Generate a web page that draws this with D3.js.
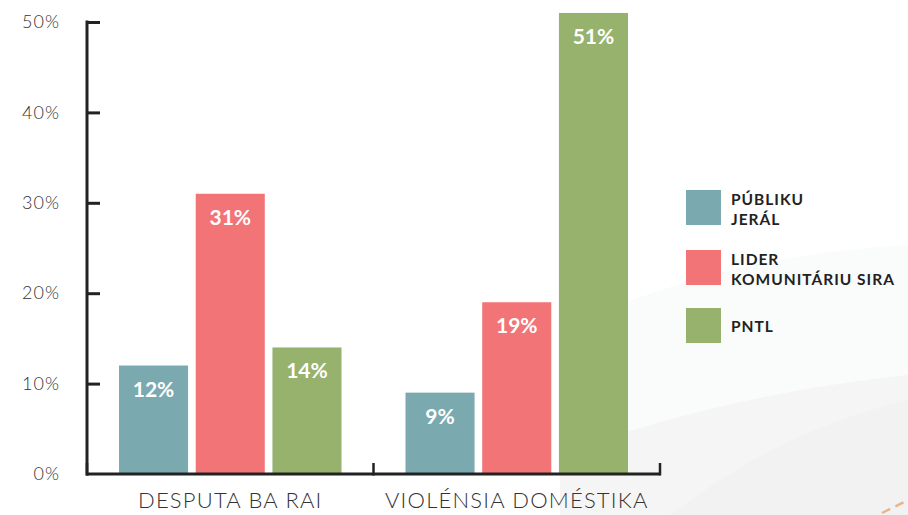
<!DOCTYPE html>
<html>
<head>
<meta charset="utf-8">
<script src="https://cdn.jsdelivr.net/npm/d3@7"></script>
<style>
  body { margin: 0; background: #fff; }
  svg { display: block; }
  .tick text { font-family: Lato, sans-serif; font-weight: 300; }
</style>
</head>
<body>
<div id="chart"></div>
<script>
  "use strict";

  var categories = ["DESPUTA BA RAI", "VIOLÉNSIA DOMÉSTIKA"];
  var seriesNames = ["PÚBLIKU JERÁL", "LIDER KOMUNITÁRIU SIRA", "PNTL"];
  var legendLines = [["PÚBLIKU", "JERÁL"], ["LIDER", "KOMUNITÁRIU SIRA"], ["PNTL"]];
  var publiku = [12, 9];
  var lider = [31, 19];
  var pntl = [14, 51];
  var yTicks = [0, 10, 20, 30, 40, 50];
  var colors = ["#7aaab0", "#f27477", "#96b26d"];

  var width = 908, height = 515;

  var svg = d3.select("#chart")
              .append("svg")
              .attr("width", width)
              .attr("height", height);

  // faint background swooshes, lower right
  svg.append("path")
     .attr("d", "M560,330 Q720,255 908,245 L908,515 L560,515 Z")
     .attr("fill", "#fafbfb");
  svg.append("path")
     .attr("d", "M560,455 Q720,395 908,375 L908,515 L560,515 Z")
     .attr("fill", "#f5f5f5");
  svg.append("path")
     .attr("d", "M670,515 Q780,430 908,400 L908,515 Z")
     .attr("fill", "#f2f2f2");
  svg.append("line")
     .attr("x1", 882).attr("y1", 513).attr("x2", 906).attr("y2", 501)
     .attr("stroke", "#e8b489").attr("stroke-width", 2.5)
     .attr("stroke-dasharray", "9,6");

  var data = categories.map(function(c, i) {
    return { name: c, values: [publiku[i], lider[i], pntl[i]] };
  });

  var x0 = d3.scaleBand()
             .domain(categories)
             .range([87, 660]);

  var x1 = d3.scaleBand()
             .domain(seriesNames)
             .range([32, x0.bandwidth() - 32])
             .paddingInner(0.1);

  var y = d3.scaleLinear()
            .domain([0, 50])
            .range([474, 22]);

  // bars
  var groups = svg.selectAll("g.group")
                  .data(data)
                  .enter()
                  .append("g")
                  .attr("class", "group")
                  .attr("transform", function(d) { return "translate(" + x0(d.name) + ",0)"; });

  var cells = groups.selectAll("g.bar")
                    .data(function(d) { return d.values.map(function(v, i) { return { s: seriesNames[i], v: v, i: i }; }); })
                    .enter()
                    .append("g")
                    .attr("class", "bar");

  cells.append("rect")
       .attr("x", function(d) { return x1(d.s); })
       .attr("y", function(d) { return y(d.v); })
       .attr("width", x1.bandwidth())
       .attr("height", function(d) { return y(0) - y(d.v); })
       .attr("fill", function(d) { return colors[d.i]; });

  cells.append("text")
       .attr("x", function(d) { return x1(d.s) + x1.bandwidth() / 2; })
       .attr("y", function(d) { return y(d.v) + 31; })
       .attr("text-anchor", "middle")
       .attr("fill", "#fff")
       .attr("font-family", "Lato, sans-serif")
       .attr("font-weight", 700)
       .attr("font-size", 21)
       .text(function(d) { return d.v + "%"; });

  // y axis
  var yAxis = d3.axisRight(y)
                .tickValues(yTicks)
                .tickSize(13)
                .tickFormat(function(d) { return d + "%"; });

  var gY = svg.append("g")
              .attr("transform", "translate(87,0)")
              .call(yAxis);
  gY.select(".domain").remove();
  gY.selectAll(".tick line").attr("stroke", "#222").attr("stroke-width", 3);
  gY.selectAll(".tick text")
    .attr("x", -27)
    .attr("text-anchor", "end")
    .attr("fill", "#333")
    .attr("font-size", 18)
    .attr("letter-spacing", 1);
  gY.selectAll(".tick").filter(function(d) { return d === 0; }).select("line").remove();
  gY.append("line")
    .attr("x1", 0).attr("x2", 0)
    .attr("y1", y(50) - 1.5).attr("y2", y(0) + 1.5)
    .attr("stroke", "#222").attr("stroke-width", 3);

  // x axis
  var xAxis = d3.axisBottom(x0).tickSize(0).tickPadding(18);
  var gX = svg.append("g")
              .attr("transform", "translate(0," + y(0) + ")")
              .call(xAxis);
  gX.select(".domain").remove();
  gX.selectAll(".tick text")
    .attr("fill", "#333")
    .attr("font-size", 22)
    .attr("dy", "0.71em")
    .attr("letter-spacing", 1.2);
  gX.append("line")
    .attr("x1", 87).attr("x2", 660)
    .attr("stroke", "#222").attr("stroke-width", 3);
  gX.selectAll("line.sep")
    .data([87, 87 + x0.bandwidth(), 660])
    .enter()
    .append("line")
    .attr("class", "sep")
    .attr("x1", function(d) { return d; }).attr("x2", function(d) { return d; })
    .attr("y1", 1.5).attr("y2", -11)
    .attr("stroke", "#222").attr("stroke-width", 2.5);

  // legend
  var legendY = [190, 250, 308];
  var legend = svg.selectAll("g.legend")
                  .data(seriesNames)
                  .enter()
                  .append("g")
                  .attr("class", "legend")
                  .attr("transform", function(d, i) { return "translate(686," + legendY[i] + ")"; });

  legend.append("rect")
        .attr("width", 35)
        .attr("height", 35)
        .attr("fill", function(d, i) { return colors[i]; });

  legend.each(function(d, i) {
    var t = d3.select(this).append("text")
              .attr("font-family", "Lato, sans-serif")
              .attr("font-weight", 700)
              .attr("font-size", 15.5)
              .attr("letter-spacing", 1)
              .attr("fill", "#222");
    var lines = legendLines[i];
    var startY = lines.length === 1 ? 24 : 15;
    t.selectAll("tspan")
     .data(lines)
     .enter()
     .append("tspan")
     .attr("x", 45)
     .attr("y", function(l, j) { return startY + j * 20; })
     .text(function(l) { return l; });
  });
</script>
</body>
</html>
